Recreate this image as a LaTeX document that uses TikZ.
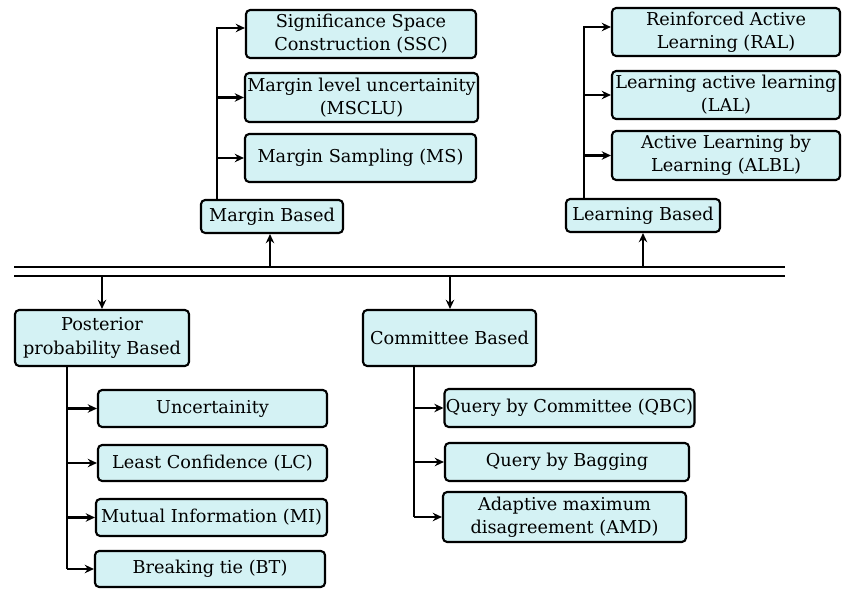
\documentclass[tikz,border=0pt]{standalone}
\usepackage{fontspec}
\setmainfont{DejaVu Serif}
\usepackage{tikz}
\usepackage{xcolor}
\usetikzlibrary{arrows.meta}
\definecolor{boxcyan}{RGB}{212,242,244}

\begin{document}
\begin{tikzpicture}[x=0.025cm,y=-0.025cm,
    box/.style={draw,fill=boxcyan,rounded corners=3pt,line width=1.5pt,align=center,
        inner sep=1pt,font=\fontsize{12.6}{16.5}\selectfont},
    link/.style={line width=1.5pt},
    arr/.style={line width=1.5pt,-{Stealth[length=6.5pt,width=6pt]}},
    bus/.style={line width=1.5pt,double,double distance=5pt}]
    \useasboundingbox (0,0) rectangle (844,589);
    % margin based
    \node[box,minimum width=5.75cm,minimum height=1.2cm] (ssc) at (361,34) {Significance Space\\Construction (SSC)};
    \node[box,minimum width=5.825cm,minimum height=1.225cm] (msclu) at (361.5,97.5) {Margin level uncertainity\\(MSCLU)};
    \node[box,minimum width=5.775cm,minimum height=1.2cm] (ms) at (360.5,158) {Margin Sampling (MS)};
    \node[box,minimum width=3.55cm,minimum height=0.825cm] (mb) at (272,216.5) {Margin Based};
    % learning based
    \node[box,minimum width=5.7cm,minimum height=1.2cm] (ral) at (726,32) {Reinforced Active\\Learning (RAL)};
    \node[box,minimum width=5.7cm,minimum height=1.2cm] (lal) at (726,95) {Learning active learning\\(LAL)};
    \node[box,minimum width=5.7cm,minimum height=1.225cm] (albl) at (726,155.5) {Active Learning by\\Learning (ALBL)};
    \node[box,minimum width=3.85cm,minimum height=0.825cm] (lb) at (643,215.5) {Learning Based};
    % posterior probability based
    \node[box,minimum width=4.35cm,minimum height=1.4cm] (pp) at (102,338) {Posterior\\probability Based};
    \node[box,minimum width=5.725cm,minimum height=0.925cm] (unc) at (212.5,408.5) {Uncertainity};
    \node[box,minimum width=5.725cm,minimum height=0.9cm] (lc) at (212.5,463) {Least Confidence (LC)};
    \node[box,minimum width=5.775cm,minimum height=0.925cm] (mi) at (211.5,517.5) {Mutual Information (MI)};
    \node[box,minimum width=5.75cm,minimum height=0.9cm] (bt) at (210,569) {Breaking tie (BT)};
    % committee based
    \node[box,minimum width=4.325cm,minimum height=1.4cm] (cb) at (449.5,338) {Committee Based};
    \node[box,minimum width=6.125cm,minimum height=0.95cm] (qbc) at (569.5,408) {Query by Committee (QBC)};
    \node[box,minimum width=6.1cm,minimum height=0.95cm] (qbb) at (567,462) {Query by Bagging};
    \node[box,minimum width=6.075cm,minimum height=1.25cm] (amd) at (564.5,517) {Adaptive maximum\\disagreement (AMD)};

    \coordinate (busW) at (14,271.5);
    \coordinate (busE) at (785,271.5);
    \draw[bus] (busW) -- (busE);

    \coordinate (mbin) at (270,266);
    \coordinate (lbin) at (643,266);
    \coordinate (ppin) at (102,277);
    \coordinate (cbin) at (450,277);
    \draw[arr] (mbin) -- (mbin |- mb.south);
    \draw[arr] (lbin) -- (lbin |- lb.south);
    \draw[arr] (ppin) -- (ppin |- pp.north);
    \draw[arr] (cbin) -- (cbin |- cb.north);

    \coordinate (mbt) at (217,200);
    \coordinate (lbt) at (584,199);
    \coordinate (ppt) at (67,366);
    \coordinate (cbt) at (414,366);
    \draw[arr] (mbt) |- ([yshift=0.15cm]ssc.west);
    \draw[arr] (lbt) |- ([yshift=0.125cm]ral.west);
    \foreach \c in {msclu,ms} \draw[arr] (\c -| mbt) -- (\c);
    \foreach \c in {lal,albl} \draw[arr] (\c -| lbt) -- (\c);
    \draw[link] (ppt) -- (ppt |- bt);
    \draw[link] (cbt) -- (cbt |- amd);
    \foreach \c in {unc,lc,mi,bt} \draw[arr] (\c -| ppt) -- (\c);
    \foreach \c in {qbc,qbb,amd} \draw[arr] (\c -| cbt) -- (\c);
\end{tikzpicture}
\end{document}
